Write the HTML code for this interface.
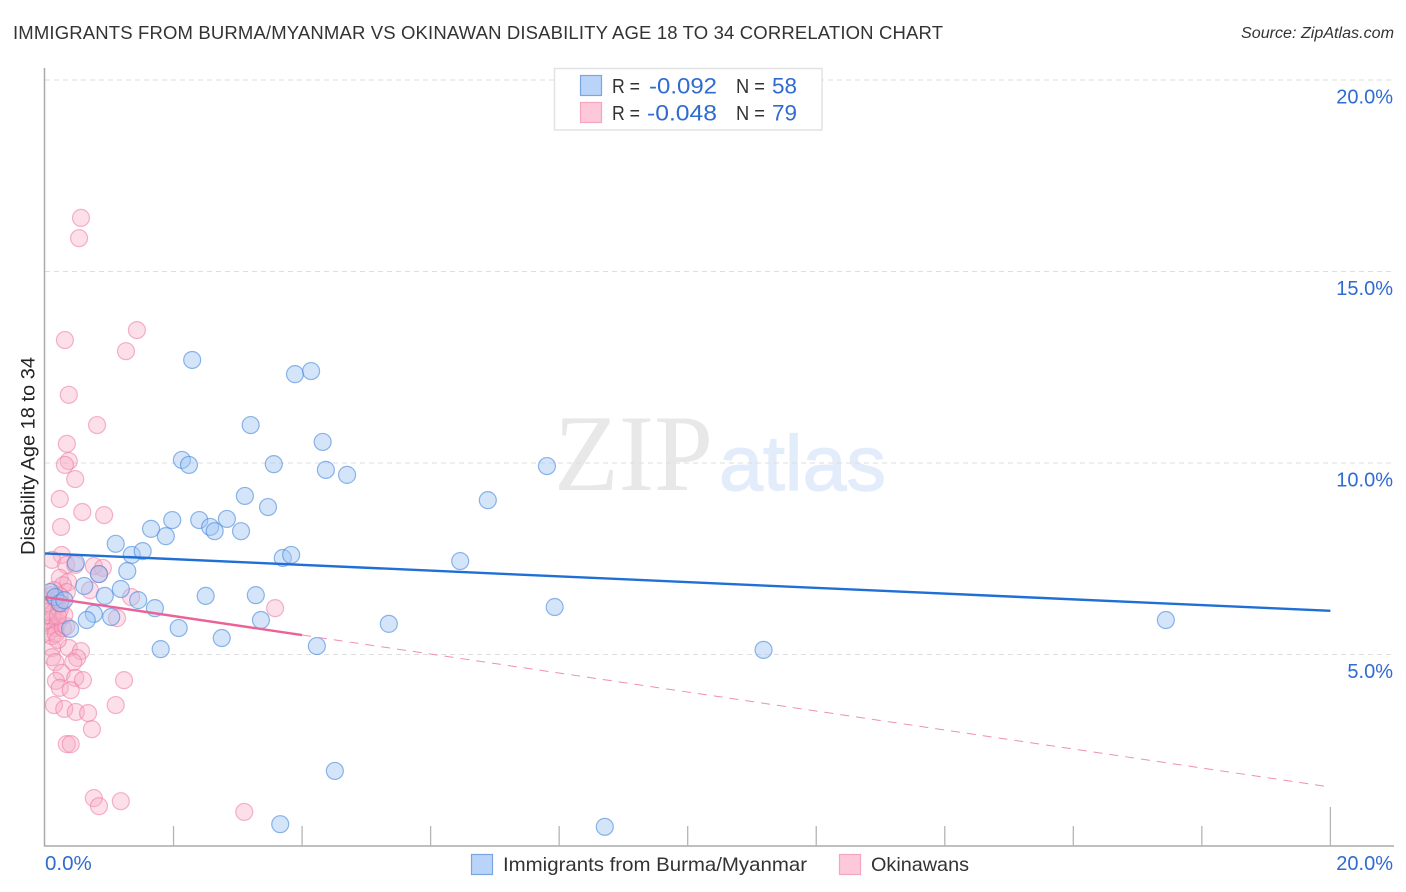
<!DOCTYPE html>
<html lang="en">
<head>
<meta charset="utf-8">
<title>Immigrants from Burma/Myanmar vs Okinawan Disability Age 18 to 34 Correlation Chart</title>
<style>
html,body{margin:0;padding:0;background:#fff;}
body{width:1406px;height:892px;overflow:hidden;}
svg{display:block;filter:blur(0.3px);}
text{font-family:"Liberation Sans",sans-serif;}
</style>
</head>
<body>
<svg id="chart" xmlns="http://www.w3.org/2000/svg" width="1406" height="892" viewBox="0 0 1406 892">
  <defs>
    <clipPath id="plot-clip"><rect x="45" y="60" width="1350" height="786"/></clipPath>
  </defs>
  <text x="13" y="39" font-size="18.5" fill="#333" textLength="930" lengthAdjust="spacing">IMMIGRANTS FROM BURMA/MYANMAR VS OKINAWAN DISABILITY AGE 18 TO 34 CORRELATION CHART</text>
  <text x="1241" y="38" font-size="15.5" font-style="italic" fill="#333" textLength="153" lengthAdjust="spacingAndGlyphs">Source: ZipAtlas.com</text>
  <g>
    <text x="554" y="490" font-size="109" fill="#e8e8e8" textLength="159" lengthAdjust="spacingAndGlyphs" style="font-family:'Liberation Serif',serif">ZIP</text>
    <text x="719" y="490" font-size="78" fill="#e2ecfa" stroke="#e2ecfa" stroke-width="1.2" textLength="167" lengthAdjust="spacingAndGlyphs">atlas</text>
  </g>
  <g id="grid"></g>
  <g id="axes"></g>
  <g clip-path="url(#plot-clip)">
    <g id="points" style="filter:blur(0.35px)"></g>
  </g>
  <g id="trends"></g>
  <text transform="translate(34.5,456) rotate(-90)" font-size="19" fill="#222" text-anchor="middle" textLength="198" lengthAdjust="spacingAndGlyphs">Disability Age 18 to 34</text>

  <g>
    <rect x="554.5" y="68.5" width="267.5" height="61.5" fill="#fff" stroke="#e2e2e2" stroke-width="1.5"/>
    <rect x="580.5" y="75.5" width="21" height="20" fill="#b9d4f8" stroke="#79a6e0" stroke-width="1.2"/>
    <rect x="580.5" y="102.5" width="21" height="20" fill="#fcc8da" stroke="#f4a6bf" stroke-width="1.2"/>
    <text x="612" y="93" font-size="20" fill="#333" textLength="28" lengthAdjust="spacingAndGlyphs">R =</text>
    <text x="649" y="93.5" font-size="22" fill="#2f6bd0" textLength="68" lengthAdjust="spacingAndGlyphs">-0.092</text>
    <text x="736" y="93" font-size="20" fill="#333" textLength="29" lengthAdjust="spacingAndGlyphs">N =</text>
    <text x="772" y="93.5" font-size="22" fill="#2f6bd0" textLength="25" lengthAdjust="spacingAndGlyphs">58</text>
    <text x="612" y="120" font-size="20" fill="#333" textLength="28" lengthAdjust="spacingAndGlyphs">R =</text>
    <text x="647" y="120.5" font-size="22" fill="#2f6bd0" textLength="70" lengthAdjust="spacingAndGlyphs">-0.048</text>
    <text x="736" y="120" font-size="20" fill="#333" textLength="29" lengthAdjust="spacingAndGlyphs">N =</text>
    <text x="772" y="120.5" font-size="22" fill="#2f6bd0" textLength="25" lengthAdjust="spacingAndGlyphs">79</text>
  </g>

  <g>
    <rect x="471.5" y="854.5" width="21" height="20" fill="#b9d4f8" stroke="#79a6e0" stroke-width="1.2"/>
    <text x="503" y="871" font-size="19.5" fill="#333" textLength="304" lengthAdjust="spacingAndGlyphs">Immigrants from Burma/Myanmar</text>
    <rect x="839.5" y="854.5" width="21" height="20" fill="#fcc8da" stroke="#f4a6bf" stroke-width="1.2"/>
    <text x="871" y="871" font-size="19.5" fill="#333" textLength="98" lengthAdjust="spacingAndGlyphs">Okinawans</text>
  </g>
</svg>
<script>
const xTickValues = [0, 2, 4, 6, 8, 10, 12, 14, 16, 18, 20];
const xEndLabels = ["0.0%", "20.0%"];
const yTickValues = [5, 10, 15, 20];
const yTickLabels = ["5.0%", "10.0%", "15.0%", "20.0%"];

const burmaX = [2.29,3.89,4.14,3.20,4.32,2.13,2.24,3.56,4.37,4.70,7.81,6.89,3.11,3.47,1.65,1.98,1.88,2.40,2.57,2.64,2.83,3.05,1.10,1.35,1.52,3.70,3.83,6.46,0.48,0.84,1.28,0.61,1.18,0.93,1.45,2.50,3.28,1.71,7.93,0.76,0.65,1.03,2.08,3.36,5.35,17.44,0.39,2.75,1.80,4.23,11.18,4.51,3.66,8.71,0.08,0.16,0.23,0.30];
const burmaY = [12.69,12.32,12.40,10.99,10.55,10.08,9.95,9.97,9.82,9.69,9.92,9.03,9.14,8.85,8.28,8.51,8.09,8.51,8.33,8.22,8.54,8.22,7.89,7.60,7.70,7.52,7.60,7.44,7.39,7.10,7.18,6.79,6.71,6.53,6.42,6.53,6.55,6.21,6.24,6.06,5.90,5.98,5.69,5.90,5.80,5.90,5.67,5.43,5.14,5.22,5.12,1.96,0.57,0.50,6.63,6.50,6.34,6.42];

const okinawanX = [0.56,0.53,1.43,1.26,0.31,0.37,0.81,0.34,0.37,0.31,0.47,0.23,0.58,0.92,0.25,0.26,0.11,0.76,0.90,0.33,0.84,0.47,0.23,0.36,0.28,0.70,0.34,1.34,1.12,3.58,0.37,0.56,0.11,0.50,0.11,0.16,0.44,0.26,0.47,0.59,1.23,0.17,0.23,0.40,1.10,0.14,0.30,0.48,0.67,0.73,0.34,0.40,0.76,0.84,1.18,3.10,0.05,0.08,0.11,0.14,0.17,0.03,0.08,0.12,0.16,0.20,0.23,0.26,0.06,0.11,0.17,0.20,0.28,0.33,0.23,0.30,0.03,0.14,0.20];
const okinawanY = [16.40,15.87,13.47,12.92,13.21,11.78,10.99,10.50,10.05,9.95,9.58,9.06,8.72,8.64,8.33,7.60,7.47,7.31,7.26,7.34,7.10,7.34,7.00,6.89,6.81,6.68,6.63,6.50,5.95,6.21,5.17,5.09,5.17,4.91,4.93,4.80,4.80,4.52,4.39,4.33,4.33,4.31,4.13,4.07,3.68,3.68,3.58,3.50,3.47,3.05,2.66,2.66,1.25,1.04,1.17,0.89,6.42,6.27,6.55,6.11,6.42,5.90,5.74,5.95,5.69,5.85,6.16,6.32,5.59,5.48,5.54,5.38,5.69,5.74,6.53,6.03,6.11,6.68,6.01];

const burmaTrendX = [0, 20];
const burmaTrendY = [7.64, 6.14];
const okinawanTrendX = [0, 20];
const okinawanTrendY = [6.50, 1.54];
const okinawanSolidEnd = 4;

const NS = 'http://www.w3.org/2000/svg';
function xScale(v) { return 45 + v * 64.27; }
function yScale(v) { return 846 - v * 38.3; }
function make(tag, parent, attrs) {
  const el = document.createElementNS(NS, tag);
  for (const k in attrs) el.setAttribute(k, attrs[k]);
  parent.appendChild(el);
  return el;
}
function trendAt(xs, ys, v) {
  return ys[0] + (ys[1] - ys[0]) * (v - xs[0]) / (xs[1] - xs[0]);
}

const grid = document.getElementById('grid');
const axes = document.getElementById('axes');
const points = document.getElementById('points');
const trends = document.getElementById('trends');

yTickValues.forEach(function (v, i) {
  const line = make('line', grid, {x1: 45, x2: 1394, y1: yScale(v), y2: yScale(v), stroke: '#dedede', 'stroke-width': 1, 'stroke-dasharray': '5 4'});
  
  
  const label = make('text', axes, {x: 1393, y: yScale(v) + 23.5, 'font-size': 20, fill: '#2f6bd0', 'text-anchor': 'end'});
  
  
  label.textContent = yTickLabels[i];
});

const yAxisLine = make('line', axes, {x1: 44.5, x2: 44.5, y1: 68, y2: 846.5, stroke: '#aaa', 'stroke-width': 1.5});


const xAxisLine = make('line', axes, {x1: 44, x2: 1394, y1: 846, y2: 846, stroke: '#aaa', 'stroke-width': 1.5});



xTickValues.forEach(function (v, i) {
  if (i === 0) return;
  const isEnd = i === xTickValues.length - 1;
  const tick = make('line', axes, {x1: xScale(v), x2: xScale(v), y1: 846, y2: isEnd ? 807 : 826, stroke: '#b5b5b5', 'stroke-width': 1.3});
  
  
});

const xLabelStart = make('text', axes, {x: 45, y: 870, 'font-size': 20.5, fill: '#2f6bd0'});


xLabelStart.textContent = xEndLabels[0];
const xLabelEnd = make('text', axes, {x: 1393, y: 870, 'font-size': 20, fill: '#2f6bd0', 'text-anchor': 'end'});


xLabelEnd.textContent = xEndLabels[1];

okinawanX.forEach(function (v, i) {
  const dot = make('circle', points, {cx: xScale(v), cy: yScale(okinawanY[i]), r: 8.5, fill: 'rgba(248,170,196,0.38)', stroke: 'rgba(236,120,160,0.55)', 'stroke-width': 1.2});
  
  
});
burmaX.forEach(function (v, i) {
  const dot = make('circle', points, {cx: xScale(v), cy: yScale(burmaY[i]), r: 8.5, fill: 'rgba(160,198,245,0.45)', stroke: 'rgba(70,135,220,0.6)', 'stroke-width': 1.2});
  
  
});

const burmaTrend = make('line', trends, {x1: xScale(burmaTrendX[0]), y1: yScale(burmaTrendY[0]), x2: xScale(burmaTrendX[1]), y2: yScale(burmaTrendY[1]), stroke: '#1f6fd6', 'stroke-width': 2.4});



const okinawanEndY = trendAt(okinawanTrendX, okinawanTrendY, okinawanSolidEnd);
const okinawanSolid = make('line', trends, {x1: xScale(okinawanTrendX[0]), y1: yScale(okinawanTrendY[0]), x2: xScale(okinawanSolidEnd), y2: yScale(okinawanEndY), stroke: '#ea6396', 'stroke-width': 2.4});


const okinawanDashed = make('line', trends, {x1: xScale(okinawanSolidEnd), y1: yScale(okinawanEndY), x2: xScale(okinawanTrendX[1]), y2: yScale(okinawanTrendY[1]), stroke: '#ee90b0', 'stroke-width': 1, 'stroke-dasharray': '9 7'});


</script>
</body>
</html>
